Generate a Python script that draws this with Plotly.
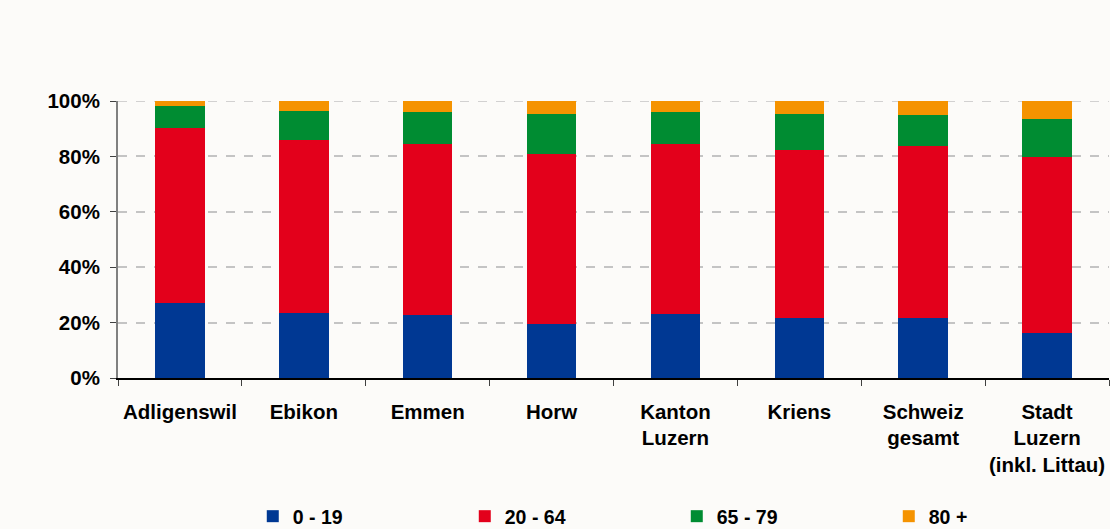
import plotly.graph_objects as go

categories = ["Adligenswil", "Ebikon", "Emmen", "Horw", "Kanton<br>Luzern",
              "Kriens", "Schweiz<br>gesamt", "Stadt<br>Luzern<br>(inkl. Littau)"]
age_0_19 = [27.2, 23.5, 22.7, 19.6, 23.2, 21.8, 21.8, 16.2]
age_20_64 = [63.2, 62.5, 61.9, 61.4, 61.4, 60.6, 62.1, 63.6]
age_65_79 = [7.9, 10.5, 11.4, 14.3, 11.4, 12.9, 11.0, 13.7]
age_80_plus = [1.7, 3.5, 4.0, 4.7, 4.0, 4.7, 5.1, 6.5]
series_names = ["0 - 19", "20 - 64", "65 - 79", "80 +"]
colors = ["#003893", "#E3001B", "#008C32", "#F59300"]
y_ticks = [0, 20, 40, 60, 80, 100]
y_tick_labels = ["0%", "20%", "40%", "60%", "80%", "100%"]

fig = go.Figure()
for name, vals, col in zip(series_names, [age_0_19, age_20_64, age_65_79, age_80_plus], colors):
    fig.add_trace(go.Bar(x=categories, y=vals, name=name, marker=dict(color=col, line=dict(width=0))))

font_family = "Liberation Sans, Arial, sans-serif"
fig.add_hline(y=100, line=dict(color="#C4C4C4", width=1.5, dash="dash"), layer="below")
fig.update_layout(
    barmode="stack",
    bargap=0.6,
    width=1110, height=529,
    margin=dict(l=118, r=1, t=101, b=151, autoexpand=False),
    paper_bgcolor="#FCFBF9",
    plot_bgcolor="#FCFBF9",
    font=dict(family=font_family, size=20, color="#000000"),
    showlegend=True,
    legend=dict(orientation="h", x=0.136, xanchor="left", y=-0.5, yanchor="middle",
                entrywidth=167, entrywidthmode="pixels", traceorder="normal",
                font=dict(family=font_family, size=19.5, color="#000000", weight="bold"),
                bgcolor="rgba(0,0,0,0)"),
)
fig.update_yaxes(range=[0, 100], tickvals=y_ticks, ticktext=y_tick_labels, automargin=False,
                 showline=True, linecolor="#808080", linewidth=2,
                 ticks="outside", ticklen=6, tickcolor="#404040", tickwidth=1,
                 showgrid=True, gridcolor="#C4C4C4", griddash="dash", gridwidth=1.5,
                 zeroline=False, ticklabelstandoff=6,
                 tickfont=dict(family=font_family, size=20.5, weight="bold"))
fig.update_xaxes(showline=True, linecolor="#000000", linewidth=2, tickangle=0, automargin=False,
                 ticks="outside", tickson="boundaries", ticklen=6, tickcolor="#404040", tickwidth=1,
                 showgrid=False, ticklabelstandoff=14,
                 tickfont=dict(family=font_family, size=20.5, weight="bold"))
fig.write_html("out.html", config={"displayModeBar": False},
               post_script="document.body.style.margin='0';")
